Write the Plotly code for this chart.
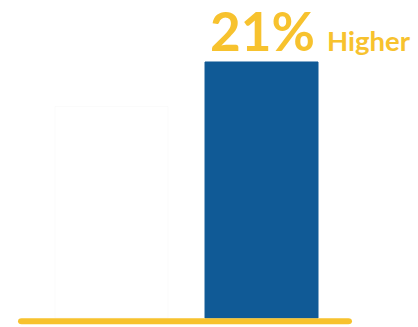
import plotly.graph_objects as go

categories = ["Before", "After"]
values = [100, 121]
bar_colors = ["#FFFFFF", "#105A96"]
pct_label = f"{round((values[1] / values[0] - 1) * 100)}%"
suffix_label = "Higher"

YELLOW = "#F7C22E"

fig = go.Figure()
fig.add_trace(go.Bar(
    x=[0, 1], y=values, width=0.753,
    marker=dict(color=bar_colors, line=dict(color=["rgba(0,0,0,0.02)", "#105A96"], width=1)),
    hoverinfo="skip",
))

# baseline with rounded ends
x0, x1, y0, y1 = -0.623, 1.603, -2.9, -0.1
r = 0.024
ym = (y0 + y1) / 2
path = (f"M {x0+r},{y1} L {x1-r},{y1} Q {x1},{y1} {x1},{ym} Q {x1},{y0} {x1-r},{y0} "
        f"L {x0+r},{y0} Q {x0},{y0} {x0},{ym} Q {x0},{y1} {x0+r},{y1} Z")
fig.add_shape(type="path", xref="x", yref="y", path=path,
              fillcolor=YELLOW, line=dict(width=0), layer="above")

fig.add_annotation(x=0.64, y=values[1], xref="x", yref="y", text=f"<b>{pct_label}</b>",
                   showarrow=False, xanchor="left", yanchor="bottom", yshift=-2,
                   font=dict(family="Lato", size=53, color=YELLOW, weight=900))
fig.add_annotation(x=1.425, y=values[1], xref="x", yref="y", text=f"<b>{suffix_label}</b>",
                   showarrow=False, xanchor="left", yanchor="bottom", yshift=3,
                   font=dict(family="Lato", size=27.5, color=YELLOW, weight=900))

fig.update_layout(
    width=418, height=327, margin=dict(l=0, r=0, t=0, b=0),
    paper_bgcolor="white", plot_bgcolor="white", showlegend=False,
    xaxis=dict(range=[-0.743, 2.043], visible=False, fixedrange=True),
    yaxis=dict(range=[-4.25, 150.3], visible=False, fixedrange=True),
)
fig.write_html("out.html", config={"displayModeBar": False},
               post_script="document.body.style.margin='0';document.body.style.overflow='hidden';")
